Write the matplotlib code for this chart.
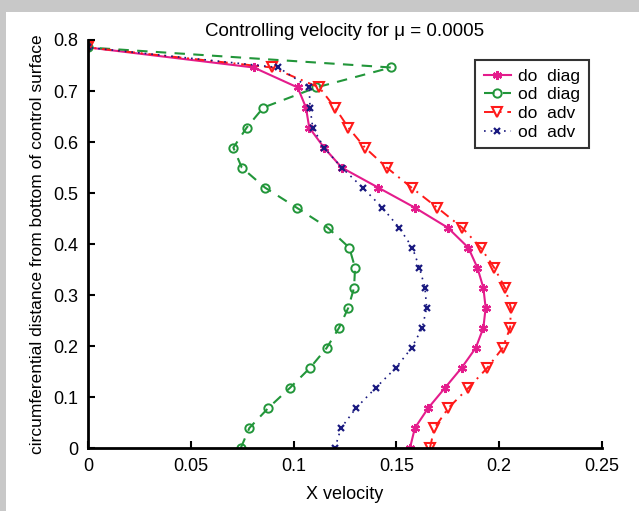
import matplotlib.pyplot as plt
from matplotlib.patches import Rectangle

plt.rcParams['font.family'] = ['Liberation Sans', 'DejaVu Sans']

# distance along the control surface (bottom -> top)
dist = [0.0, 0.0393, 0.0785, 0.1178, 0.1571, 0.1963, 0.2356, 0.2749, 0.3142,
        0.3534, 0.3927, 0.4320, 0.4712, 0.5105, 0.5498, 0.5890, 0.6283,
        0.6676, 0.7069, 0.7461, 0.7854]

do_diag = [0.1566, 0.159, 0.1655, 0.1736, 0.1817, 0.1886, 0.1923, 0.1934,
           0.1923, 0.1894, 0.185, 0.175, 0.159, 0.1412, 0.1234, 0.1148,
           0.1076, 0.106, 0.102, 0.0806, 0.0]
od_diag = [0.0743, 0.0785, 0.0877, 0.0982, 0.108, 0.1161, 0.1221, 0.1266,
           0.1294, 0.1299, 0.1271, 0.1166, 0.1015, 0.0861, 0.0748, 0.0707,
           0.0772, 0.0853, 0.111, 0.1474, 0.0]
do_adv = [0.1663, 0.1685, 0.1753, 0.185, 0.1942, 0.2017, 0.2053, 0.2057,
          0.2028, 0.1976, 0.191, 0.182, 0.1699, 0.1574, 0.1453, 0.1347,
          0.1266, 0.1201, 0.1125, 0.0893, 0.0]
od_adv = [0.1201, 0.1231, 0.1304, 0.1399, 0.1497, 0.1574, 0.1626, 0.1647,
          0.1639, 0.1612, 0.1578, 0.1513, 0.1432, 0.1336, 0.1234, 0.1148,
          0.1093, 0.108, 0.1076, 0.0926, 0.0]

fig = plt.figure(figsize=(6.39, 5.11), dpi=100, facecolor='#c8c8c8')
fig.add_artist(Rectangle((6 / 639, 0), 1, 1 - 12 / 511, transform=fig.transFigure,
                         facecolor='white', edgecolor='none', zorder=-10))
ax = fig.add_axes([88 / 639, 63 / 511, 514 / 639, 408 / 511])
ax.set_zorder(5)
ax.set_facecolor('white')

asterisk = (6, 2, 0)
ax.plot(do_diag, dist, color='#e41c8c', lw=1.5, ls='-', marker=asterisk,
        ms=6.5, mew=1.6, label='do  diag')
ax.plot(od_diag, dist, color='#22963a', lw=1.5, ls=(0, (5, 4)), marker='o',
        ms=6, mfc='none', mew=1.4, label='od  diag')
ax.plot(do_adv, dist, color='#ff1a1a', lw=1.4, ls=(0, (5, 3, 1, 3)), marker='v',
        ms=7.5, mfc='none', mew=1.5, label='do  adv')
ax.plot(od_adv, dist, color='#1a1a80', lw=1.2, ls=(0, (1, 3)), marker='x',
        ms=5, mew=1.6, label='od  adv')

ax.set_xlim(0, 0.25)
ax.set_ylim(0, 0.8)
ax.set_xticks([0, 0.05, 0.1, 0.15, 0.2, 0.25])
ax.set_xticklabels(['0', '0.05', '0.1', '0.15', '0.2', '0.25'])
ax.set_yticks([0, 0.1, 0.2, 0.3, 0.4, 0.5, 0.6, 0.7, 0.8])
ax.set_yticklabels(['0', '0.1', '0.2', '0.3', '0.4', '0.5', '0.6', '0.7', '0.8'])
ax.tick_params(direction='in', length=5, width=1.5, labelsize=13, pad=7)
ax.spines['top'].set_visible(False)
ax.spines['right'].set_visible(False)
for s in ('left', 'bottom'):
    ax.spines[s].set_linewidth(2)

ax.set_title('Controlling velocity for \u03bc = 0.0005', fontsize=13.5, pad=1)
ax.set_xlabel('X velocity', fontsize=13, labelpad=8)
ax.set_ylabel('circumferential distance from bottom of control surface',
              fontsize=12.5, labelpad=6)

leg = ax.legend(loc='upper right', bbox_to_anchor=(589 / 639, 1 - 60 / 511),
                bbox_transform=fig.transFigure, borderaxespad=0, fontsize=12.5,
                frameon=True, fancybox=False, edgecolor='black', handlelength=1.6,
                handletextpad=0.4, labelspacing=0.2, borderpad=0.5,
                markerscale=1.0)
leg.get_frame().set_linewidth(1.5)

fig.savefig('out.png', dpi=100, facecolor=fig.get_facecolor())
